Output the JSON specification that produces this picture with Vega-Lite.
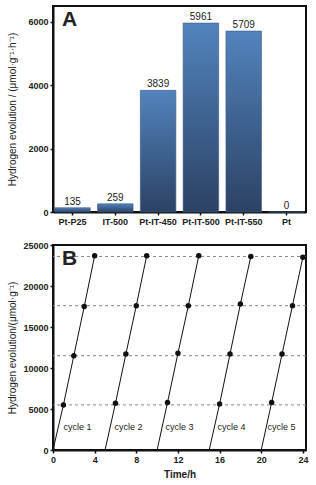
{
  "$schema": "https://vega.github.io/schema/vega-lite/v6.json",
  "padding": {"left": 6, "top": 5, "right": 5, "bottom": 5},
  "spacing": 13,
  "config": {
    "font": "Liberation Sans",
    "view": {"stroke": "#111", "strokeWidth": 2},
    "axis": {
      "labelFont": "Liberation Sans", "labelFontWeight": "bold", "labelFontSize": 9, "labelColor": "#222",
      "titleFont": "Liberation Sans", "titleFontSize": 10, "titleColor": "#222", "titleFontWeight": "normal",
      "domainColor": "#111", "domainWidth": 2, "tickColor": "#111", "tickSize": 3, "tickWidth": 1.5, "grid": false,
      "labelFlush": false, "labelOverlap": false
    }
  },
  "vconcat": [
    {
      "width": 253, "height": 206,
      "data": {"values": [
        {"sample": "Pt-P25", "rate": 135},
        {"sample": "IT-500", "rate": 259},
        {"sample": "Pt-IT-450", "rate": 3839},
        {"sample": "Pt-IT-500", "rate": 5961},
        {"sample": "Pt-IT-550", "rate": 5709},
        {"sample": "Pt", "rate": 0}
      ]},
      "layer": [
        {
          "mark": {"type": "bar", "stroke": "#3a5a85", "strokeWidth": 0.6,
            "color": {"gradient": "linear", "x1": 0, "y1": 0, "x2": 0, "y2": 1,
              "stops": [{"offset": 0, "color": "#5283bd"}, {"offset": 1, "color": "#2c4264"}]}},
          "encoding": {
            "x": {"field": "sample", "type": "nominal", "sort": null,
              "scale": {"paddingInner": 0.17, "paddingOuter": 0.04},
              "axis": {"title": null, "labelAngle": 0, "labelPadding": 2, "tickSize": 3}},
            "y": {"field": "rate", "type": "quantitative",
              "scale": {"domain": [0, 6500], "nice": false},
              "axis": {"title": "Hydrogen evolution / (μmol·g⁻¹·h⁻¹)", "format": "d", "values": [0,1000,2000,3000,4000,5000,6000], "titleX": -36, "labelPadding": 2}}
          }
        },
        {
          "mark": {"type": "text", "dy": -6, "fontSize": 10, "color": "#222"},
          "encoding": {
            "x": {"field": "sample", "type": "nominal", "sort": null},
            "y": {"field": "rate", "type": "quantitative"},
            "text": {"field": "rate", "type": "quantitative", "format": "d"}
          }
        },
        {
          "data": {"values": [{"label": "A"}]},
          "mark": {"type": "text", "fontSize": 21, "fontWeight": "bold", "color": "#222", "align": "left", "baseline": "top", "x": 9, "y": 3},
          "encoding": {"text": {"field": "label"}}
        }
      ]
    },
    {
      "width": 253, "height": 205,
      "layer": [
        {
          "data": {"values": [{"h": 5500}, {"h": 11500}, {"h": 17600}, {"h": 23600}]},
          "mark": {"type": "rule", "color": "#888", "strokeDash": [3, 3], "strokeWidth": 1},
          "encoding": {"y": {"field": "h", "type": "quantitative"}}
        },
        {
          "data": {"values": [
            {"t": 0, "v": 0, "cycle": "cycle 1"}, {"t": 1, "v": 5500, "cycle": "cycle 1"}, {"t": 2, "v": 11500, "cycle": "cycle 1"}, {"t": 3, "v": 17500, "cycle": "cycle 1"}, {"t": 4, "v": 23700, "cycle": "cycle 1"},
            {"t": 5, "v": 0, "cycle": "cycle 2"}, {"t": 6, "v": 5700, "cycle": "cycle 2"}, {"t": 7, "v": 11700, "cycle": "cycle 2"}, {"t": 8, "v": 17600, "cycle": "cycle 2"}, {"t": 9, "v": 23700, "cycle": "cycle 2"},
            {"t": 10, "v": 0, "cycle": "cycle 3"}, {"t": 11, "v": 5800, "cycle": "cycle 3"}, {"t": 12, "v": 11800, "cycle": "cycle 3"}, {"t": 13, "v": 17600, "cycle": "cycle 3"}, {"t": 14, "v": 23700, "cycle": "cycle 3"},
            {"t": 15, "v": 0, "cycle": "cycle 4"}, {"t": 16, "v": 5600, "cycle": "cycle 4"}, {"t": 17, "v": 11700, "cycle": "cycle 4"}, {"t": 18, "v": 17800, "cycle": "cycle 4"}, {"t": 19, "v": 23600, "cycle": "cycle 4"},
            {"t": 20, "v": 0, "cycle": "cycle 5"}, {"t": 21, "v": 5800, "cycle": "cycle 5"}, {"t": 22, "v": 11700, "cycle": "cycle 5"}, {"t": 23, "v": 17600, "cycle": "cycle 5"}, {"t": 24, "v": 23500, "cycle": "cycle 5"}
          ]},
          "layer": [
            {
              "mark": {"type": "line", "color": "#111", "strokeWidth": 1},
              "encoding": {
                "x": {"field": "t", "type": "quantitative", "scale": {"domain": [0, 24.3], "nice": false},
                  "axis": {"title": "Time/h", "format": "d", "titleFontWeight": "bold", "titleFontSize": 10, "values": [0,2,4,6,8,10,12,14,16,18,20,22,24], "labelPadding": 2, "titlePadding": 5}},
                "y": {"field": "v", "type": "quantitative", "scale": {"domain": [0, 25000], "nice": false},
                  "axis": {"title": "Hydrogen evolution/(μmol·g⁻¹)", "format": "d", "values": [0,5000,10000,15000,20000,25000], "titleX": -36, "labelPadding": 2}},
                "detail": {"field": "cycle"}
              }
            },
            {
              "transform": [{"filter": "datum.v > 0"}],
              "mark": {"type": "circle", "color": "#111", "opacity": 1, "size": 30},
              "encoding": {
                "x": {"field": "t", "type": "quantitative"},
                "y": {"field": "v", "type": "quantitative"}
              }
            }
          ]
        },
        {
          "data": {"values": [
            {"t": 1.0, "v": 2800, "label": "cycle 1"},
            {"t": 5.9, "v": 2800, "label": "cycle 2"},
            {"t": 10.8, "v": 2800, "label": "cycle 3"},
            {"t": 15.8, "v": 2800, "label": "cycle 4"},
            {"t": 20.6, "v": 2800, "label": "cycle 5"}
          ]},
          "mark": {"type": "text", "fontSize": 9, "color": "#222", "align": "left"},
          "encoding": {
            "x": {"field": "t", "type": "quantitative"},
            "y": {"field": "v", "type": "quantitative"},
            "text": {"field": "label"}
          }
        },
        {
          "data": {"values": [{"label": "B"}]},
          "mark": {"type": "text", "fontSize": 21, "fontWeight": "bold", "color": "#222", "align": "left", "baseline": "top", "x": 9, "y": 3},
          "encoding": {"text": {"field": "label"}}
        }
      ]
    }
  ]
}
